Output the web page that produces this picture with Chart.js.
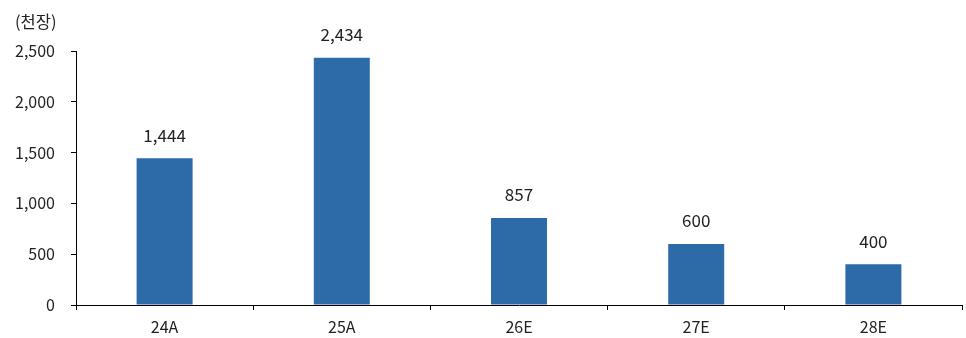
<!DOCTYPE html>
<html>
<head>
<meta charset="utf-8">
<script src="https://cdn.jsdelivr.net/npm/chart.js@4"></script>
<style>
  html, body { margin: 0; padding: 0; background: #fff; }
  #wrap { width: 966px; height: 338px; position: relative; }
</style>
</head>
<body>
<div id="wrap"><canvas id="chart"></canvas></div>
<script>
const categories = ['24A', '25A', '26E', '27E', '28E']
const shipments = [1444, 2434, 857, 600, 400]
const yTicks = [0, 500, 1000, 1500, 2000, 2500]
const unitLabel = '(천장)'

const FONT = '"Noto Sans CJK KR", "Noto Sans", sans-serif'
const fmt = v => v.toLocaleString('en-US')

// value labels over each bar + unit caption in the corner
const barLabels = {
  id: 'barLabels',
  afterDatasetsDraw(chart) {
    const ctx = chart.ctx
    const meta = chart.getDatasetMeta(0)
    ctx.save()
    ctx.font = '17px ' + FONT
    ctx.fillStyle = '#222'
    ctx.textAlign = 'center'
    ctx.textBaseline = 'middle'
    meta.data.forEach((bar, i) => {
      ctx.fillText(fmt(shipments[i]), bar.x, bar.y - 23)
    })
    ctx.textAlign = 'left'
    ctx.font = '16.5px ' + FONT
    ctx.fillText(unitLabel, 15, 22)
    ctx.restore()
  }
}

new Chart(document.getElementById('chart'), {
  type: 'bar',
  data: {
    labels: categories,
    datasets: [{
      data: shipments,
      backgroundColor: '#2D6BA8',
      borderWidth: 0,
      categoryPercentage: 1,
      barPercentage: 0.316
    }]
  },
  options: {
    responsive: true,
    maintainAspectRatio: false,
    animation: false,
    layout: { padding: { top: 51, right: 4, left: 0, bottom: 0 } },
    plugins: {
      legend: { display: false },
      tooltip: { enabled: false }
    },
    scales: {
      x: {
        grid: { drawOnChartArea: false, drawTicks: true, tickLength: 5, color: '#000', offset: true },
        border: { color: '#000', width: 1 },
        ticks: { color: '#222', font: { family: FONT, size: 16 }, padding: 7 },
        afterFit(scale) { scale.height = 33 }
      },
      y: {
        min: 0,
        max: 2500,
        afterBuildTicks(scale) { scale.ticks = yTicks.map(v => ({ value: v })) },
        grid: { drawOnChartArea: false, drawTicks: true, tickLength: 5, color: '#000' },
        border: { color: '#000', width: 1 },
        ticks: {
          color: '#222',
          font: { family: FONT, size: 16 },
          padding: 16,
          callback: v => fmt(v)
        },
        afterFit(scale) { scale.width = 76 }
      }
    }
  },
  plugins: [barLabels]
})
</script>
</body>
</html>
